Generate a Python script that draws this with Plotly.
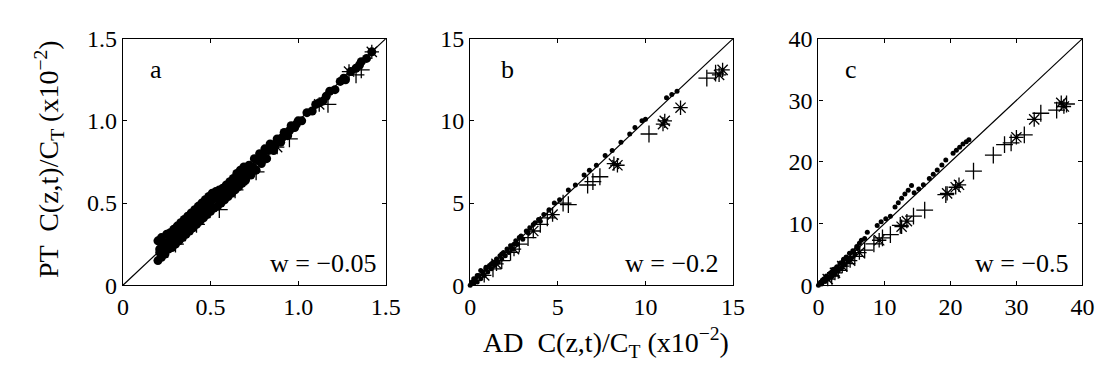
import plotly.graph_objects as go

# ---------------- data (units of 1e-2) ----------------
axis_max = [1.5, 15, 40]
tick_vals_a = [0, 0.5, 1.0, 1.5]
tick_text_a = ["0", "0.5", "1.0", "1.5"]
tick_vals_b = [0, 5, 10, 15]
tick_text_b = ["0", "5", "10", "15"]
tick_vals_c = [0, 10, 20, 30, 40]
tick_text_c = ["0", "10", "20", "30", "40"]
panel_letters = ["a", "b", "c"]
w_labels = ["w = \u22120.05", "w = \u22120.2", "w = \u22120.5"]

# panel a
a_dot_x = [0.20, 0.20, 0.21, 0.22, 0.22, 0.23, 0.24, 0.25, 0.26, 0.27, 0.28, 0.29, 0.30, 0.31, 0.32,
           0.33, 0.34, 0.35, 0.36, 0.37, 0.38, 0.39, 0.40, 0.41, 0.42, 0.43, 0.44, 0.45, 0.46, 0.47,
           0.48, 0.49, 0.50, 0.51, 0.52, 0.53, 0.54, 0.55, 0.56, 0.57, 0.58, 0.59, 0.60, 0.61, 0.62,
           0.63, 0.64, 0.65, 0.66, 0.67, 0.68, 0.69, 0.70, 0.72, 0.73, 0.75, 0.76, 0.78, 0.79, 0.81,
           0.82, 0.84, 0.86, 0.88, 0.90, 0.92, 0.94, 0.96, 0.98, 1.00, 1.02, 1.05, 1.08, 1.10, 1.14,
           1.18, 1.21, 1.24, 1.27, 1.30, 1.33, 1.36, 1.39, 1.42,
           0.21, 0.23, 0.25, 0.27, 0.29, 0.31, 0.33, 0.35, 0.37, 0.39, 0.41, 0.43, 0.45, 0.47, 0.49,
           0.51, 0.53, 0.55, 0.57, 0.59, 0.61, 0.63, 0.65, 0.67, 0.69, 0.71, 0.74, 0.77, 0.80, 0.83,
           0.85, 0.87, 0.89, 0.91, 0.93, 0.95, 0.97, 0.99, 1.12, 1.16, 1.26, 1.35]
a_dot_y = [0.15, 0.27, 0.22, 0.17, 0.29, 0.25, 0.19, 0.31, 0.22, 0.32, 0.23, 0.34, 0.25, 0.36, 0.27,
           0.38, 0.29, 0.40, 0.31, 0.42, 0.33, 0.44, 0.35, 0.46, 0.37, 0.48, 0.39, 0.50, 0.41, 0.52,
           0.43, 0.54, 0.45, 0.56, 0.47, 0.57, 0.48, 0.58, 0.50, 0.59, 0.52, 0.61, 0.54, 0.63, 0.56,
           0.65, 0.58, 0.68, 0.60, 0.70, 0.62, 0.72, 0.64, 0.73, 0.67, 0.77, 0.70, 0.80, 0.74, 0.83,
           0.77, 0.86, 0.82, 0.89, 0.87, 0.93, 0.91, 0.97, 0.96, 1.00, 1.00, 1.05, 1.06, 1.10, 1.12,
           1.18, 1.19, 1.24, 1.25, 1.30, 1.32, 1.36, 1.38, 1.42,
           0.20, 0.23, 0.26, 0.27, 0.29, 0.31, 0.34, 0.35, 0.37, 0.39, 0.41, 0.44, 0.45, 0.47, 0.50,
           0.52, 0.53, 0.54, 0.56, 0.58, 0.60, 0.62, 0.64, 0.66, 0.68, 0.70, 0.72, 0.76, 0.79, 0.82,
           0.84, 0.86, 0.88, 0.90, 0.92, 0.94, 0.96, 0.98, 1.11, 1.15, 1.26, 1.34]
a_plus_x = [1.17, 1.36, 1.33, 0.95, 0.76, 0.55, 0.64, 0.42, 0.30]
a_plus_y = [1.10, 1.31, 1.28, 0.89, 0.69, 0.46, 0.58, 0.37, 0.25]
a_star_x = [1.42, 1.29, 1.12, 0.88, 0.68, 0.47, 0.33, 0.23]
a_star_y = [1.42, 1.30, 1.10, 0.84, 0.64, 0.44, 0.30, 0.20]

# panel b
b_dot_x = [0.0, 0.1, 0.2, 0.3, 0.4, 0.5, 0.6, 0.7, 0.8, 0.9, 1.0, 1.1, 1.2, 1.3, 1.4, 1.5, 1.6, 1.7,
           1.8, 1.9, 2.0, 2.1, 2.2, 2.3, 2.4, 2.6, 2.7, 2.9, 3.0, 3.2, 3.4, 3.6, 3.9, 4.2, 4.5, 4.8,
           5.1, 5.6, 6.0, 6.5, 6.8, 7.2, 7.7, 8.1, 8.6, 9.1, 9.4, 9.8, 10.0, 11.2, 11.5, 11.8,
           0.2, 0.4, 0.6, 0.9, 1.2, 1.5, 1.8, 2.5, 2.8, 3.3, 3.7, 4.0, 0.1, 0.3]
b_dot_y = [0.0, 0.2, 0.1, 0.4, 0.2, 0.6, 0.4, 0.8, 0.6, 1.0, 0.8, 1.2, 1.0, 1.4, 1.2, 1.6, 1.4, 1.8,
           1.6, 2.0, 1.8, 2.2, 2.0, 2.4, 2.2, 2.7, 2.5, 3.0, 2.8, 3.3, 3.5, 3.7, 4.0, 4.3, 4.6, 5.0,
           5.2, 5.8, 6.1, 6.7, 7.0, 7.3, 7.9, 8.2, 8.7, 9.2, 9.6, 10.0, 10.1, 11.4, 11.6, 11.8,
           0.4, 0.6, 0.9, 1.1, 1.3, 1.4, 1.9, 2.5, 2.9, 3.2, 3.8, 3.9, -0.1, -0.1]
b_plus_x = [13.5, 14.0, 10.2, 7.4, 7.0, 6.7, 5.6, 5.3, 4.4, 4.0, 3.3, 2.8, 2.3, 1.8, 1.3]
b_plus_y = [12.6, 12.9, 9.2, 6.6, 6.3, 6.1, 4.9, 5.0, 4.1, 3.7, 2.9, 2.5, 2.0, 1.5, 1.0]
b_star_x = [14.4, 14.2, 12.0, 11.1, 11.0, 8.2, 8.4, 4.7, 3.6, 2.5, 1.5, 0.8]
b_star_y = [13.1, 12.8, 10.8, 10.0, 9.8, 7.4, 7.3, 4.3, 3.3, 2.2, 1.3, 0.6]

# panel c
c_dot_x = [0.0, 0.3, 0.5, 0.8, 1.0, 1.2, 1.5, 1.8, 2.0, 2.3, 2.5, 2.8, 3.0, 3.3, 3.5, 3.8, 4.0, 4.2,
           4.5, 4.7, 5.0, 5.2, 5.5, 5.8, 6.2, 6.5, 7.0, 7.4, 8.9, 9.5, 10.2, 10.9, 11.6, 12.1, 12.6,
           13.1, 13.6, 14.1, 14.5, 15.2, 15.9, 16.8, 17.4, 18.0, 18.7, 19.3, 20.4, 20.9, 21.4, 21.9,
           22.4, 22.8, 0.6, 1.3, 2.1, 2.9, 3.7, 4.4, 5.3, 6.0, 0.2, 0.4]
c_dot_y = [0.0, 0.5, 0.2, 1.0, 0.6, 1.5, 1.0, 2.0, 1.4, 2.6, 1.8, 3.0, 2.3, 3.6, 2.8, 4.2, 3.3, 4.6,
           3.8, 5.2, 4.4, 5.6, 5.0, 6.3, 6.8, 7.3, 7.6, 8.6, 9.7, 10.3, 10.8, 11.2, 12.7, 13.4, 14.1,
           14.8, 15.4, 16.2, 15.0, 15.6, 16.3, 17.3, 18.0, 18.7, 19.5, 20.3, 21.4, 21.9, 22.4, 22.9,
           23.3, 23.6, 0.8, 1.3, 2.0, 2.7, 3.8, 4.3, 5.5, 6.1, -0.3, -0.2]
c_plus_x = [37.6, 36.1, 33.7, 31.2, 29.2, 28.2, 26.5, 23.5, 19.3, 16.1, 14.4, 12.4, 10.9, 9.7, 8.4,
            7.0, 5.5, 4.3, 3.0, 2.0]
c_plus_y = [29.4, 28.4, 27.9, 24.4, 23.1, 22.8, 21.1, 18.5, 14.7, 12.2, 11.2, 9.7, 8.2, 7.7, 6.7,
            5.7, 4.7, 3.5, 2.4, 1.5]
c_star_x = [37.2, 36.8, 32.7, 30.0, 21.3, 20.8, 19.5, 13.4, 12.6, 9.2, 6.2, 4.8, 3.6, 2.5, 1.4]
c_star_y = [29.0, 29.6, 26.9, 24.0, 16.3, 15.9, 14.9, 10.4, 9.5, 7.3, 5.3, 4.0, 3.1, 2.0, 1.0]

# ---------------- layout geometry ----------------
W, H = 1109, 374
x_pix = [(111, 379), (465, 733), (820, 1089)]
y_top, y_bot = 19, 284
FONT = "Liberation Serif"

panels = [
    (a_dot_x, a_dot_y, a_plus_x, a_plus_y, a_star_x, a_star_y, tick_vals_a, tick_text_a, 9),
    (b_dot_x, b_dot_y, b_plus_x, b_plus_y, b_star_x, b_star_y, tick_vals_b, tick_text_b, 5),
    (c_dot_x, c_dot_y, c_plus_x, c_plus_y, c_star_x, c_star_y, tick_vals_c, tick_text_c, 5),
]
letter_pos = [0.127, 0.142, 0.123]
w_right = [0.975, 0.955, 0.955]

fig = go.Figure()
layout = dict(
    width=W, height=H, margin=dict(l=0, r=0, t=0, b=0),
    paper_bgcolor="white", plot_bgcolor="white", showlegend=False,
    font=dict(family=FONT, size=24, color="black"),
)
annotations = []
for i, (dx, dy, px, py, sx, sy, tv, tt, dsize) in enumerate(panels):
    xa = "x" if i == 0 else f"x{i+1}"
    ya = "y" if i == 0 else f"y{i+1}"
    m = axis_max[i]
    fig.add_trace(go.Scatter(x=[0, m], y=[0, m], mode="lines", xaxis=xa, yaxis=ya,
                             line=dict(color="black", width=1.2), hoverinfo="skip"))
    fig.add_trace(go.Scatter(x=dx, y=dy, mode="markers", xaxis=xa, yaxis=ya, cliponaxis=False,
                             marker=dict(symbol="circle", size=dsize, color="black")))
    fig.add_trace(go.Scatter(x=px, y=py, mode="markers", xaxis=xa, yaxis=ya, cliponaxis=False,
                             marker=dict(symbol="cross-thin-open", size=12, color="black",
                                         line=dict(color="black", width=1.3))))
    fig.add_trace(go.Scatter(x=sx, y=sy, mode="markers", xaxis=xa, yaxis=ya, cliponaxis=False,
                             marker=dict(symbol="asterisk-open", size=12, color="black",
                                         line=dict(color="black", width=1.3))))
    x0, x1 = x_pix[i]
    common = dict(showgrid=False, zeroline=False, showline=True, linecolor="black", linewidth=1.3,
                  mirror="ticks", ticks="inside", ticklen=4, tickcolor="black",
                  tickfont=dict(family=FONT, size=24, color="black"), fixedrange=True)
    layout["xaxis" + ("" if i == 0 else str(i + 1))] = dict(
        domain=[x0 / W, x1 / W], range=[0, m], anchor=ya, tickvals=tv, ticktext=tt, **common)
    layout["yaxis" + ("" if i == 0 else str(i + 1))] = dict(
        domain=[1 - y_bot / H, 1 - y_top / H], range=[0, m], anchor=xa, tickvals=tv, ticktext=tt,
        **common)
    annotations.append(dict(text=panel_letters[i], xref=f"{xa} domain", yref=f"{ya} domain",
                            x=letter_pos[i], y=0.875, xanchor="center", yanchor="middle",
                            showarrow=False, font=dict(family=FONT, size=26, color="black")))
    annotations.append(dict(text=w_labels[i], xref=f"{xa} domain", yref=f"{ya} domain",
                            x=w_right[i], y=0.09, xanchor="right", yanchor="middle", showarrow=False,
                            font=dict(family=FONT, size=26, color="black")))

annotations.append(dict(text="AD  C(z,t)/C<sub>T</sub> (x10<sup>\u22122</sup>)", xref="paper", yref="paper",
                        x=603 / W, y=1 - 345 / H, xanchor="center", yanchor="middle", showarrow=False,
                        font=dict(family=FONT, size=28, color="black")))
annotations.append(dict(text="PT  C(z,t)/C<sub>T</sub> (x10<sup>\u22122</sup>)", xref="paper", yref="paper",
                        x=36 / W, y=1 - 148 / H, xanchor="center", yanchor="middle", textangle=-90,
                        showarrow=False, font=dict(family=FONT, size=28, color="black")))
layout["annotations"] = annotations
fig.update_layout(**layout)
fig.write_html("out.html")
